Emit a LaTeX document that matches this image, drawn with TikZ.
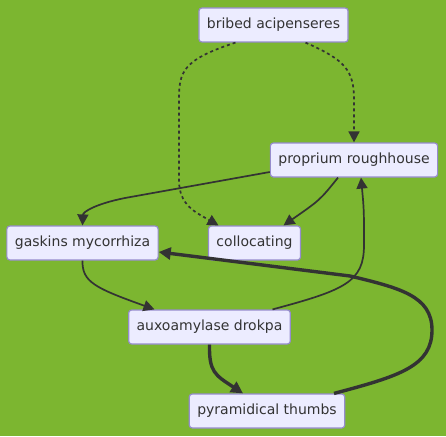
\documentclass[tikz,border=0pt]{standalone}
\usepackage{fontspec}
\setmainfont{DejaVu Sans}
\usetikzlibrary{arrows.meta,positioning,calc}
\definecolor{flowgreen}{RGB}{124,182,48}
\definecolor{flowfill}{RGB}{236,236,255}
\definecolor{flowline}{RGB}{150,140,205}
\definecolor{flowink}{RGB}{51,51,51}

\begin{document}
\begin{tikzpicture}[x=1pt, y=-1pt,
  box/.style={draw=flowline, fill=flowfill, rounded corners=3pt, line width=1.2pt,
    minimum height=34pt, inner xsep=8pt, font=\fontsize{14}{16}\selectfont, text=flowink},
  arr/.style={-{Triangle[length=11pt, width=11pt]}, draw=flowink, line width=1.7pt},
  thickarr/.style={arr, line width=3.4pt, -{Triangle[length=12pt, width=12pt]}},
  dotarr/.style={arr, dash pattern=on 3pt off 3pt}]
\fill[flowgreen] (0,0) rectangle (446,436);
\useasboundingbox (0,0) rectangle (446,436);
\node[box] (bribed) at (273.5,25) {bribed acipenseres};
\node[box] (proprium) at (354,160) {proprium roughhouse};
\node[box] (gaskins) at (82.5,243) {gaskins mycorrhiza};
\node[box] (colloc) at (254.5,243) {collocating};
\node[box] (auxo) at (209.5,327) {auxoamylase drokpa};
\node[box] (pyram) at (267,411) {pyramidical thumbs};
% dotted links from the top
\draw[dotarr] ([xshift=32pt]bribed.south) .. controls (345,60) and (354,70) .. (354,100) -- (proprium.north);
\draw[dotarr] ([xshift=-38pt]bribed.south) .. controls (182,60) and (179,72) .. (179,100) -- (179,180) .. controls (179,205) and (195,212) .. ([xshift=-36pt]colloc.north);
% solid links
\draw[arr] ([yshift=-12pt]proprium.west) -- (125,198) .. controls (95,204) and (83,212) .. (gaskins.north);
\draw[arr] ([xshift=-16pt]proprium.south) .. controls (320,200) .. ([xshift=29pt]colloc.north);
\draw[arr] (gaskins.south) .. controls (82,282) and (95,288) .. ([xshift=-55pt]auxo.north);
\draw[arr] ([xshift=63pt]auxo.north) .. controls (345,290) and (364,282) .. (364,245) .. controls (364,210) .. ([xshift=7pt]proprium.south);
% thick links
\draw[thickarr] (auxo.south) .. controls (209,372) and (215,375) .. ([xshift=-24pt]pyram.north);
\draw[thickarr] ([xshift=67pt]pyram.north) .. controls (400,376) and (432,366) .. (432,330) .. controls (432,296) and (400,288) .. (350,276) -- ([yshift=-9pt]gaskins.east);
\end{tikzpicture}
\end{document}
